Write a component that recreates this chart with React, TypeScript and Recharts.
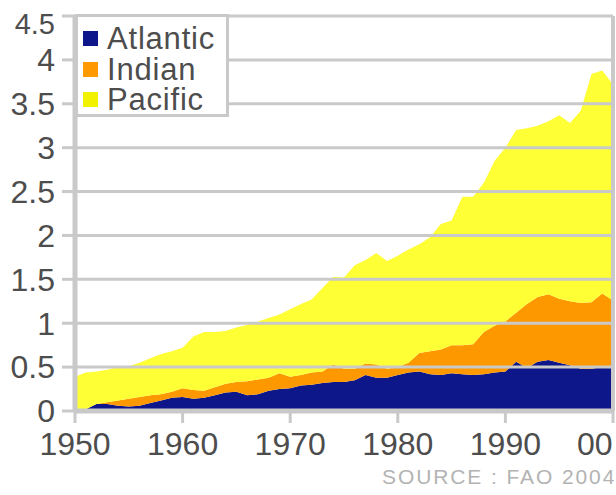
import React from 'react';
import { AreaChart, Area, XAxis, YAxis, ReferenceLine } from 'recharts';

// Catches by ocean, millions of tonnes
const YEARS = [
  1950, 1951, 1952, 1953, 1954, 1955, 1956, 1957, 1958, 1959,
  1960, 1961, 1962, 1963, 1964, 1965, 1966, 1967, 1968, 1969,
  1970, 1971, 1972, 1973, 1974, 1975, 1976, 1977, 1978, 1979,
  1980, 1981, 1982, 1983, 1984, 1985, 1986, 1987, 1988, 1989,
  1990, 1991, 1992, 1993, 1994, 1995, 1996, 1997, 1998, 1999, 2000,
];

const ATLANTIC = [
  0, 0.02, 0.08, 0.08, 0.06, 0.05, 0.06, 0.09, 0.12, 0.15,
  0.16, 0.14, 0.15, 0.18, 0.21, 0.22, 0.18, 0.19, 0.23, 0.25,
  0.26, 0.29, 0.3, 0.32, 0.33, 0.33, 0.35, 0.41, 0.38, 0.38,
  0.41, 0.44, 0.45, 0.42, 0.41, 0.43, 0.42, 0.41, 0.42, 0.44,
  0.45, 0.56, 0.49, 0.56, 0.58, 0.55, 0.52, 0.48, 0.48, 0.5, 0.49,
];

const INDIAN = [
  0, 0, 0, 0.02, 0.06, 0.09, 0.1, 0.09, 0.07, 0.07,
  0.1, 0.1, 0.08, 0.09, 0.1, 0.11, 0.16, 0.17, 0.15, 0.18,
  0.13, 0.12, 0.14, 0.13, 0.2, 0.15, 0.13, 0.13, 0.15, 0.1,
  0.09, 0.11, 0.21, 0.26, 0.29, 0.32, 0.33, 0.35, 0.48, 0.53,
  0.57, 0.56, 0.73, 0.74, 0.75, 0.73, 0.73, 0.75, 0.76, 0.84, 0.77,
];

const PACIFIC = [
  0.39, 0.42, 0.37, 0.37, 0.38, 0.37, 0.39, 0.42, 0.46, 0.46,
  0.46, 0.61, 0.67, 0.63, 0.6, 0.62, 0.64, 0.66, 0.68, 0.67,
  0.77, 0.81, 0.83, 0.95, 1.0, 1.04, 1.18, 1.18, 1.27, 1.23,
  1.27, 1.29, 1.24, 1.3, 1.43, 1.42, 1.69, 1.68, 1.7, 1.88,
  1.98, 2.08, 2.0, 1.95, 1.97, 2.09, 2.03, 2.19, 2.6, 2.54, 2.46,
];

const X_TICKS = [1950, 1960, 1970, 1980, 1990, 2000];
const Y_TICKS = [0, 0.5, 1, 1.5, 2, 2.5, 3, 3.5, 4, 4.5];

const SERIES = [
  { key: 'Atlantic', color: '#0d1789', swatch: '#0d1789' },
  { key: 'Indian', color: '#fd9800', swatch: '#ff9900' },
  { key: 'Pacific', color: '#ffff36', swatch: '#f2f200' },
];

const data = YEARS.map((year, i) => ({
  year,
  Atlantic: ATLANTIC[i],
  Indian: INDIAN[i],
  Pacific: PACIFIC[i],
}));

const GRID = '#c9c9c9';
const TEXT = '#4d4d4d';
const FONT = '"Liberation Sans", Arial, sans-serif';

const XTick = (props: any) => {
  const { x, y, payload } = props;
  const last = payload.value === 2000;
  return (
    <text
      x={last ? 577 : x}
      y={y}
      dy="0.71em"
      textAnchor={last ? 'start' : 'middle'}
      fill={TEXT}
      fontSize={32}
      fontFamily={FONT}
    >
      {last ? '00' : payload.value}
    </text>
  );
};

// top label sits a little lower than its grid line in the reference
const YTick = (props: any) => {
  const { x, y, payload } = props;
  const top = payload.value === 4.5;
  return (
    <text
      x={x}
      y={top ? y + 8 : y}
      dy="0.355em"
      textAnchor="end"
      fill={TEXT}
      fontSize={top ? 29 : 32}
      fontFamily={FONT}
    >
      {payload.value}
    </text>
  );
};

export default function App() {
  return (
    <div style={{ position: 'relative', width: 616, height: 495, overflow: 'hidden', background: '#fff' }}>
      <style>{'body{margin:0}'}</style>
      <AreaChart
        width={616}
        height={495}
        data={data}
        margin={{ top: 16, right: 3, left: 0, bottom: 0 }}
      >
        <XAxis
          dataKey="year"
          type="number"
          domain={[1950, 2000]}
          ticks={X_TICKS}
          height={84}
          axisLine={{ stroke: GRID, strokeWidth: 5 }}
          tickLine={{ stroke: GRID, strokeWidth: 3 }}
          tickSize={12}
          tickMargin={9}
          tick={<XTick />}
          interval={0}
        />
        <YAxis
          type="number"
          domain={[0, 4.5]}
          ticks={Y_TICKS}
          width={75}
          interval={0}
          axisLine={{ stroke: GRID, strokeWidth: 5 }}
          tickLine={{ stroke: GRID, strokeWidth: 3 }}
          tickSize={13}
          tickMargin={7}
          tick={<YTick />}
        />
        {SERIES.map((s) => (
          <Area
            key={s.key}
            type="linear"
            dataKey={s.key}
            stackId="ocean"
            stroke="none"
            fill={s.color}
            fillOpacity={1}
            isAnimationActive={false}
          />
        ))}
        {Y_TICKS.filter((t) => t > 0).map((t) => (
          <ReferenceLine key={t} y={t} stroke={GRID} strokeWidth={3} />
        ))}
        <ReferenceLine x={2000} stroke={GRID} strokeWidth={4} />
      </AreaChart>

      {/* legend box in the top-left corner of the plot */}
      <div
        style={{
          position: 'absolute',
          left: 75,
          top: 14,
          width: 154,
          height: 103,
          boxSizing: 'border-box',
          border: `3px solid ${GRID}`,
          background: '#fff',
          fontFamily: FONT,
        }}
      >
        {SERIES.map((s, i) => (
          <div
            key={s.key}
            style={{ position: 'absolute', left: 5, top: 7 + i * 30.5, height: 29, display: 'flex', alignItems: 'center' }}
          >
            <span style={{ width: 15, height: 15, background: s.swatch, display: 'inline-block' }} />
            <span style={{ marginLeft: 9, fontSize: 31, lineHeight: '29px', color: TEXT, letterSpacing: 0.8 }}>
              {s.key}
            </span>
          </div>
        ))}
      </div>

      <div
        style={{
          position: 'absolute',
          left: 382,
          top: 466,
          fontFamily: FONT,
          fontSize: 21,
          lineHeight: '21px',
          letterSpacing: 1.9,
          color: '#b3b3b3',
          whiteSpace: 'nowrap',
        }}
      >
        SOURCE : FAO 2004
      </div>
    </div>
  );
}
